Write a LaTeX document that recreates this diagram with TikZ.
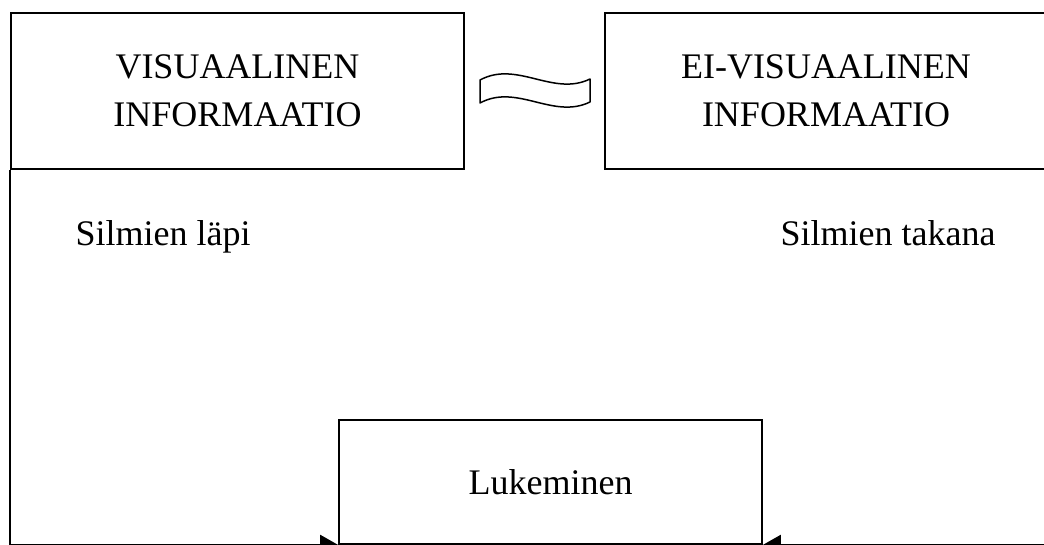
\documentclass[tikz,border=0pt]{standalone}
\usepackage{fontspec}
\setmainfont{Liberation Serif}
\usetikzlibrary{arrows.meta}
\tikzset{
  infobox/.style={draw, line width=1.8pt, align=center, font=\fontsize{36}{48}\selectfont},
  plaintext/.style={anchor=base, font=\fontsize{36}{48}\selectfont},
  connector/.style={line width=1.8pt, -{Triangle[length=18pt,width=20pt]}},
}
\begin{document}
\begin{tikzpicture}[x=1pt,y=-1pt]
	\useasboundingbox (0,0) rectangle (1044,545);
	\node[infobox, minimum width=453pt, minimum height=156pt] (visual) at (237.5,91) {VISUAALINEN\\INFORMAATIO};
	\node[infobox, minimum width=442pt, minimum height=156pt] (nonvisual) at (826,91) {EI-VISUAALINEN\\INFORMAATIO};
	% wavy band between the two boxes
	\draw[line width=1.5pt, line join=round] (480,80) .. controls (517,60) and (553,97) .. (590,79)
		-- (590,102) .. controls (553,120) and (517,83) .. (480,103) -- cycle;
	\node[plaintext] (through) at (163,246) {Silmien läpi};
	\node[plaintext] (behind) at (888,246) {Silmien takana};
	\node[infobox, minimum width=423pt, minimum height=124pt] (read) at (550.5,482) {Lukeminen};
	\draw[connector] (visual.south west) |- (read.south west);
	\draw[connector] (nonvisual.south east) |- (read.south east);
\end{tikzpicture}
\end{document}
